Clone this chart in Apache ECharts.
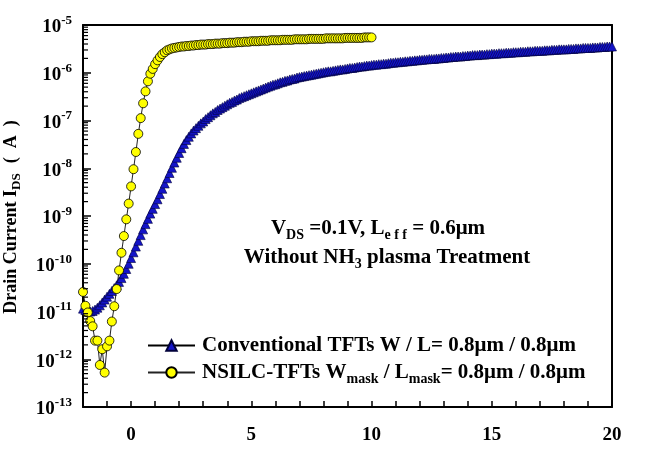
<!DOCTYPE html>
<html>
<head>
<meta charset="utf-8">
<script src="https://cdn.jsdelivr.net/npm/echarts@6/dist/echarts.min.js"></script>
<style>
  html, body { margin: 0; padding: 0; background: #fff; }
  #main { width: 646px; height: 449px; }
</style>
</head>
<body>
<div id="main"></div>
<script>
// gate voltage sweep (V)
var vgStart = -2;
var vgStep = 0.1;

// log10 of drain current (A), one value per 0.1 V
var convLogI = [
  -10.94, -10.97, -10.99, -11.00, -10.99, -10.96, -10.92, -10.87, -10.81, -10.75,
  -10.69, -10.63, -10.57, -10.51, -10.45, -10.38, -10.30, -10.21, -10.11, -10.00,
  -9.88, -9.76, -9.64, -9.52, -9.40, -9.28, -9.17, -9.06, -8.95, -8.85,
  -8.75, -8.65, -8.54, -8.43, -8.32, -8.21, -8.10, -7.99, -7.88, -7.78,
  -7.68, -7.58, -7.49, -7.41, -7.34, -7.27, -7.21, -7.16, -7.11, -7.06,
  -7.02, -6.97, -6.93, -6.89, -6.85, -6.82, -6.78, -6.75, -6.72, -6.69,
  -6.66, -6.63, -6.61, -6.58, -6.56, -6.53, -6.51, -6.49, -6.47, -6.45,
  -6.43, -6.41, -6.39, -6.37, -6.35, -6.33, -6.31, -6.29, -6.27, -6.25,
  -6.24, -6.22, -6.20, -6.19, -6.17, -6.16, -6.14, -6.13, -6.12, -6.10,
  -6.09, -6.08, -6.07, -6.06, -6.05, -6.04, -6.03, -6.02, -6.01, -6.00,
  -5.99, -5.98, -5.97, -5.97, -5.96, -5.95, -5.94, -5.93, -5.93, -5.92,
  -5.91, -5.90, -5.90, -5.89, -5.88, -5.87, -5.87, -5.86, -5.85, -5.85,
  -5.84, -5.83, -5.83, -5.82, -5.82, -5.81, -5.81, -5.80, -5.79, -5.79,
  -5.78, -5.78, -5.77, -5.77, -5.76, -5.76, -5.75, -5.75, -5.74, -5.74,
  -5.73, -5.73, -5.72, -5.72, -5.71, -5.71, -5.71, -5.70, -5.70, -5.69,
  -5.69, -5.68, -5.68, -5.67, -5.67, -5.66, -5.66, -5.66, -5.65, -5.65,
  -5.64, -5.64, -5.63, -5.63, -5.63, -5.62, -5.62, -5.62, -5.61, -5.61,
  -5.60, -5.60, -5.60, -5.59, -5.59, -5.59, -5.58, -5.58, -5.58, -5.57,
  -5.57, -5.57, -5.56, -5.56, -5.56, -5.55, -5.55, -5.55, -5.54, -5.54,
  -5.54, -5.54, -5.53, -5.53, -5.53, -5.52, -5.52, -5.52, -5.51, -5.51,
  -5.51, -5.51, -5.50, -5.50, -5.50, -5.49, -5.49, -5.49, -5.48, -5.48,
  -5.48, -5.48, -5.47, -5.47, -5.47, -5.46, -5.46, -5.46, -5.45, -5.45,
  -5.45
];

var nsilcLogI = [
  -10.59, -10.88, -11.02, -11.20, -11.31, -11.61, -11.61, -12.12, -11.79, -12.28,
  -11.73, -11.61, -11.21, -10.89, -10.53, -10.14, -9.77, -9.42, -9.07, -8.74,
  -8.38, -8.02, -7.66, -7.28, -6.95, -6.64, -6.39, -6.18, -6.02, -5.92,
  -5.82, -5.74, -5.67, -5.61, -5.57, -5.53, -5.51, -5.49, -5.48, -5.47,
  -5.46, -5.45, -5.45, -5.44, -5.44, -5.43, -5.43, -5.42, -5.42, -5.41,
  -5.41, -5.41, -5.40, -5.40, -5.40, -5.39, -5.39, -5.39, -5.38, -5.38,
  -5.38, -5.37, -5.37, -5.37, -5.36, -5.36, -5.36, -5.35, -5.35, -5.35,
  -5.34, -5.34, -5.34, -5.34, -5.33, -5.33, -5.33, -5.33, -5.32, -5.32,
  -5.32, -5.32, -5.32, -5.31, -5.31, -5.31, -5.31, -5.31, -5.30, -5.30,
  -5.30, -5.30, -5.30, -5.30, -5.29, -5.29, -5.29, -5.29, -5.29, -5.29,
  -5.29, -5.28, -5.28, -5.28, -5.28, -5.28, -5.28, -5.28, -5.28, -5.27,
  -5.27, -5.27, -5.27, -5.27, -5.27, -5.27, -5.27, -5.26, -5.26, -5.26,
  -5.26
];

var seriesNames = ['Conventional TFTs', 'NSILC-TFTs'];
var legendLabels = [
  'Conventional TFTs W / L= 0.8\u03bcm / 0.8\u03bcm',
  'NSILC-TFTs W{sub|mask} / L{sub|mask}= 0.8\u03bcm / 0.8\u03bcm'
];
var xTickLabels = [0, 5, 10, 15, 20];
var yDecades = [-13, -12, -11, -10, -9, -8, -7, -6, -5];

function toPoints(logs) {
  return logs.map(function (v, i) {
    return [+(vgStart + i * vgStep).toFixed(1), Math.pow(10, v)];
  });
}

// minor log ticks 2..9 x 10^n on the left axis
var minorTicks = [];
for (var e = yDecades[0]; e < yDecades[yDecades.length - 1]; e++) {
  for (var m = 2; m <= 9; m++) minorTicks.push([vgStart, m * Math.pow(10, e)]);
}

var FONT = '"Liberation Serif", "Times New Roman", serif';
var subStyle = { fontFamily: FONT, fontWeight: 'bold', fontSize: 14, fill: '#000', color: '#000', padding: [13, 0, 0, 0] };
var yMin = Math.pow(10, yDecades[0]);
var yMax = Math.pow(10, yDecades[yDecades.length - 1]);
var frameLine = { show: true, onZero: false, lineStyle: { color: '#000', width: 2 } };

var chart = echarts.init(document.getElementById('main'));

var option = {
  backgroundColor: '#fff',
  animation: false,
  grid: { left: 83, right: 34, top: 25, bottom: 42 },
  legend: [{
    data: [seriesNames[0]],
    left: 142, top: 330,
    itemWidth: 47, itemHeight: 13,
    formatter: function () { return legendLabels[0]; },
    textStyle: { fontFamily: FONT, fontWeight: 'bold', fontSize: 21, color: '#000', padding: [0, 0, 0, 2] }
  }, {
    data: [seriesNames[1]],
    left: 142, top: 357,
    itemWidth: 47, itemHeight: 13,
    formatter: function () { return legendLabels[1]; },
    textStyle: {
      fontFamily: FONT, fontWeight: 'bold', fontSize: 21, color: '#000', padding: [0, 0, 0, 2],
      rich: { sub: subStyle }
    }
  }],
  xAxis: [{
    type: 'value', min: -2, max: 20, interval: 1,
    axisLine: frameLine,
    axisTick: { show: true, inside: true, length: 6, lineStyle: { color: '#000', width: 1.5 } },
    splitLine: { show: false },
    axisLabel: {
      margin: 19,
      fontFamily: FONT, fontWeight: 'bold', fontSize: 19, color: '#000',
      formatter: function (v) { return xTickLabels.indexOf(v) >= 0 ? String(v) : ''; }
    }
  }, {
    type: 'value', position: 'top', min: -2, max: 20,
    axisLine: frameLine,
    axisTick: { show: false }, axisLabel: { show: false }, splitLine: { show: false }
  }],
  yAxis: [{
    type: 'log', logBase: 10, min: yMin, max: yMax,
    axisLine: frameLine,
    axisTick: { show: true, inside: true, length: 8, lineStyle: { color: '#000', width: 1.5 } },
    splitLine: { show: false },
    axisLabel: {
      margin: 11,
      formatter: function (v) { return '{b|10}{s|' + Math.round(Math.log10(v)) + '}'; },
      rich: {
        b: { fontFamily: FONT, fontWeight: 'bold', fontSize: 19, color: '#000', lineHeight: 22, padding: [5, 0, 0, 0] },
        s: { fontFamily: FONT, fontWeight: 'bold', fontSize: 13, color: '#000', verticalAlign: 'top', lineHeight: 22, padding: [0, 0, 8, 0] }
      }
    }
  }, {
    type: 'log', logBase: 10, position: 'right', min: yMin, max: yMax,
    axisLine: frameLine,
    axisTick: { show: false }, axisLabel: { show: false }, splitLine: { show: false }
  }],
  graphic: [{
    type: 'text', x: 11, y: 217, rotation: Math.PI / 2,
    style: {
      text: 'Drain Current I{sub|DS}{p|(  A  )}',
      fontFamily: FONT, fontWeight: 'bold', fontSize: 18, fill: '#000',
      align: 'center', verticalAlign: 'middle',
      rich: {
        sub: { fontFamily: FONT, fontWeight: 'bold', fontSize: 13, fill: '#000', padding: [12, 0, 0, 0] },
        p: { fontFamily: FONT, fontWeight: 'bold', fontSize: 18, fill: '#000', padding: [0, 0, 0, 10] }
      }
    }
  }, {
    type: 'text', x: 378, y: 229,
    style: {
      text: 'V{sub|DS} =0.1V, L{sub|e f f} = 0.6\u03bcm',
      fontFamily: FONT, fontWeight: 'bold', fontSize: 21, fill: '#000',
      align: 'center', verticalAlign: 'middle',
      rich: { sub: subStyle }
    }
  }, {
    type: 'text', x: 387, y: 258,
    style: {
      text: 'Without NH{sub|3} plasma Treatment',
      fontFamily: FONT, fontWeight: 'bold', fontSize: 21, fill: '#000',
      align: 'center', verticalAlign: 'middle',
      rich: { sub: subStyle }
    }
  }],
  series: [{
    name: 'minorTicks',
    type: 'custom',
    silent: true,
    clip: false,
    z: 10,
    data: minorTicks,
    renderItem: function (params, api) {
      var p = api.coord([api.value(0), api.value(1)]);
      return {
        type: 'line',
        shape: { x1: p[0], y1: p[1], x2: p[0] + 5, y2: p[1] },
        style: { stroke: '#000', lineWidth: 1.2 }
      };
    }
  }, {
    name: seriesNames[0],
    type: 'line',
    data: toPoints(convLogI),
    symbol: 'triangle', symbolSize: 9,
    showAllSymbol: true,
    lineStyle: { color: '#000', width: 1 },
    itemStyle: { color: '#1414c8', borderColor: '#00003a', borderWidth: 0.6 }
  }, {
    name: seriesNames[1],
    type: 'line',
    data: toPoints(nsilcLogI),
    symbol: 'circle', symbolSize: 9,
    showAllSymbol: true,
    lineStyle: { color: '#222', width: 1 },
    itemStyle: { color: '#ffff00', borderColor: '#000', borderWidth: 0.8 }
  }]
};

chart.setOption(option);
</script>
</body>
</html>
